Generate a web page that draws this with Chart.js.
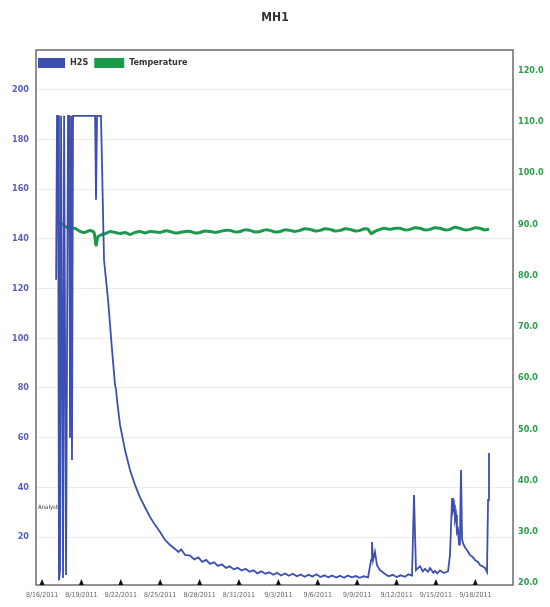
<!DOCTYPE html>
<html>
<head>
<meta charset="utf-8">
<title>MH1</title>
<script src="https://cdn.jsdelivr.net/npm/chart.js@4.4.1/dist/chart.umd.min.js"></script>
<style>
    html, body { margin: 0; padding: 0; background: #fff; }
    #wrap { width: 550px; height: 607px; }
</style>
</head>
<body>
<div id="wrap"><canvas id="graficoMH1"></canvas></div>
<script>
let fuente = "'Liberation Sans Narrow', 'DejaVu Sans Condensed', sans-serif";

// x axis: days from first tick
let tickDays = [0, 3, 6, 9, 12, 15, 18, 21, 24, 27, 30, 33];
let tickLabels = ["8/16/2011", "8/19/2011", "8/22/2011", "8/25/2011", "8/28/2011", "8/31/2011",
                  "9/3/2011", "9/6/2011", "9/9/2011", "9/12/2011", "9/15/2011", "9/18/2011"];
let leftTicks = [20, 40, 60, 80, 100, 120, 140, 160, 180, 200];
let rightTicks = [20, 30, 40, 50, 60, 70, 80, 90, 100, 110, 120];

// H2S (left axis)
let h2sDays = [1.07, 1.14, 1.22, 1.29, 1.37, 1.45, 1.52, 1.60, 1.68, 1.83, 1.98, 2.06, 2.13, 2.21, 2.28, 2.36,
               4.04, 4.11, 4.19, 4.49,
               4.72, 5.03, 5.33, 5.56, 5.64, 5.71, 5.94, 6.32, 6.70, 7.08, 7.46, 7.84, 8.23, 8.61, 8.99,
               9.37, 9.75, 10.13, 10.4, 10.6, 10.9, 11.27, 11.6, 11.9, 12.2, 12.5, 12.8, 13.1, 13.4, 13.7,
               14.0, 14.3, 14.6, 14.9, 15.2, 15.5, 15.8, 16.1, 16.4, 16.7, 17.0, 17.3, 17.6, 17.9, 18.2,
               18.5, 18.8, 19.1, 19.4, 19.7, 20.0, 20.3, 20.6, 20.9, 21.2, 21.5, 21.8, 22.1, 22.4, 22.7,
               23.0, 23.3, 23.6, 23.9, 24.2, 24.5, 24.83, 25.06, 25.13, 25.21,
               25.36, 25.51, 25.74, 26.12, 26.4, 26.7, 27.0, 27.3, 27.65, 27.9, 28.18, 28.33, 28.48,
               28.79, 29.0, 29.17, 29.4, 29.55, 29.8, 29.93, 30.1, 30.31, 30.6, 30.92, 31.07, 31.23, 31.3,
               31.38, 31.45, 31.53, 31.6, 31.68, 31.76, 31.83, 31.91, 31.99, 32.1, 32.22, 32.4, 32.60, 32.8,
               32.98, 33.2, 33.36, 33.55, 33.74, 33.89, 33.97, 34.04];
let h2sValues = [123.5, 189.5, 189.5, 2.5, 6.7, 189.5, 189.5, 3.5, 189.5, 4.7, 189.5, 189.5, 60, 189.5, 51, 189.5,
                 189.5, 155.7, 189.5, 189.5,
                 131.5, 115.4, 95.3, 81.2, 79.2, 75.2, 65.1, 55, 47, 41, 36, 32, 28, 24.8, 22,
                 18.8, 16.8, 15.2, 14.0, 15.0, 12.8, 12.5, 11.0, 11.8, 10.0, 10.8, 9.2, 9.8, 8.4, 9.0,
                 7.6, 8.2, 7.0, 7.6, 6.5, 7.2, 6.0, 6.6, 5.4, 6.2, 5.2, 5.8, 4.8, 5.6, 4.5,
                 5.3, 4.4, 5.2, 4.2, 4.9, 4.0, 4.8, 4.1, 5.0, 3.9, 4.6, 3.8, 4.5, 3.7, 4.4,
                 3.6, 4.5, 3.8, 4.3, 3.6, 4.2, 3.8, 10.7, 18, 10.7,
                 14, 8.7, 6.7, 5.1, 4.2, 4.8, 3.9, 4.6, 4.0, 5.0, 4.5, 36.9, 6.7,
                 8.3, 6.2, 7.2, 6.0, 7.5, 5.6, 6.4, 5.4, 6.6, 5.5, 6.2, 12.7, 35.7, 31,
                 33, 27, 29, 22, 23, 17, 19, 47, 19, 17, 15.8, 14.5, 12.7, 12.0,
                 10.7, 10.0, 8.7, 8.2, 7.5, 5.9, 34.9, 53.8];

// Temperature (right axis)
let tempDays = [1.14, 1.37, 1.75, 2.13, 2.51, 2.89, 3.27, 3.66, 3.96, 4.11, 4.27, 4.57, 4.87, 5.18, 5.56,
                5.94, 6.32, 6.70, 7.08, 7.46, 7.85, 8.23, 8.6, 8.99, 9.37, 9.75, 10.13, 10.51, 10.9, 11.27,
                11.65, 12.03, 12.4, 12.80, 13.2, 13.56, 13.9, 14.32, 14.7, 15.08, 15.45, 15.84, 16.2, 16.60,
                17.0, 17.37, 17.75, 18.13, 18.5, 18.89, 19.25, 19.65, 20.0, 20.41, 20.8, 21.17, 21.55, 21.93,
                22.3, 22.70, 23.1, 23.46, 23.85, 24.22, 24.55, 24.83, 25.06, 25.36, 25.74, 26.1, 26.50,
                26.9, 27.27, 27.65, 28.03, 28.4, 28.79, 29.15, 29.55, 29.9, 30.31, 30.7, 31.07, 31.45,
                31.83, 32.2, 32.60, 33.0, 33.36, 33.7, 34.04];
let tempValues = [89.8, 90.4, 89.6, 89.2, 89.2, 88.6, 88.4, 88.8, 88.4, 85.9, 87.6, 88.0, 88.2, 88.6, 88.4,
                  88.2, 88.4, 88.0, 88.4, 88.6, 88.3, 88.6, 88.5, 88.4, 88.7, 88.6, 88.3, 88.4, 88.6, 88.6,
                  88.3, 88.4, 88.7, 88.6, 88.4, 88.6, 88.8, 88.8, 88.5, 88.6, 88.9, 88.8, 88.5, 88.6,
                  88.9, 88.8, 88.5, 88.6, 88.9, 88.8, 88.6, 88.8, 89.1, 89.0, 88.7, 88.8, 89.1, 89.0,
                  88.7, 88.8, 89.1, 89.0, 88.7, 88.8, 89.1, 89.0, 88.2, 88.6, 89.0, 89.2, 89.0,
                  89.2, 89.2, 88.9, 89.0, 89.3, 89.2, 88.9, 89.0, 89.3, 89.2, 88.9, 89.0, 89.4,
                  89.2, 88.9, 89.0, 89.3, 89.2, 88.9, 89.0];

let azul = "#3d4fb0";
let verde = "#1b9a4c";

function puntos(dias, valores) {
    return dias.map((d, i) => ({ x: d, y: valores[i] }));
}

// frame, tick triangles, inner legend and small note
let extras = {
    id: "extras",
    afterDatasetsDraw(chart) {
        let ctx = chart.ctx;
        let a = chart.chartArea;
        let xs = chart.scales.x;
        ctx.save();

        ctx.strokeStyle = "#6b6b6b";
        ctx.lineWidth = 1.5;
        ctx.strokeRect(a.left, a.top, a.right - a.left, a.bottom - a.top);

        ctx.fillStyle = "#111";
        tickDays.forEach(function (d) {
            let px = xs.getPixelForValue(d);
            ctx.beginPath();
            ctx.moveTo(px - 2.5, a.bottom);
            ctx.lineTo(px, a.bottom - 6);
            ctx.lineTo(px + 2.5, a.bottom);
            ctx.closePath();
            ctx.fill();
        });

        // legend inside the plot
        ctx.font = "bold 9px " + fuente;
        ctx.textBaseline = "middle";
        let x = a.left + 2;
        let y = a.top + 13;
        chart.data.datasets.forEach(function (ds, i) {
            let ancho = i === 0 ? 27 : 30;
            ctx.fillStyle = ds.borderColor;
            ctx.fillRect(x, y - 5, ancho, 10);
            ctx.fillStyle = "#333";
            ctx.fillText(ds.label, x + ancho + 5, y);
            x += ancho + 5 + ctx.measureText(ds.label).width + 6;
        });

        ctx.font = "6px " + fuente;
        ctx.fillStyle = "#333";
        ctx.fillText("Analyst", a.left + 2, chart.scales.y.getPixelForValue(32));
        ctx.restore();
    }
};

new Chart(document.getElementById("graficoMH1"), {
    type: "line",
    data: {
        datasets: [{
            label: "H2S",
            data: puntos(h2sDays, h2sValues),
            borderColor: azul,
            backgroundColor: azul,
            borderWidth: 1.8,
            pointRadius: 0,
            tension: 0,
            yAxisID: "y"
        }, {
            label: "Temperature",
            data: puntos(tempDays, tempValues),
            borderColor: verde,
            backgroundColor: verde,
            borderWidth: 3,
            pointRadius: 0,
            tension: 0.2,
            yAxisID: "y1"
        }]
    },
    options: {
        responsive: true,
        maintainAspectRatio: false,
        animation: false,
        layout: { padding: 0 },
        plugins: {
            legend: { display: false },
            tooltip: { enabled: false },
            title: {
                display: true,
                text: "MH1",
                color: "#333",
                font: { size: 12, weight: "bold", family: fuente, lineHeight: 1.5 },
                padding: { top: 9, bottom: 23 }
            }
        },
        scales: {
            x: {
                type: "linear",
                min: -0.46,
                max: 35.87,
                afterBuildTicks: function (axis) {
                    axis.ticks = tickDays.map(v => ({ value: v }));
                },
                afterFit: function (axis) { axis.height = 22; },
                grid: { display: false, drawTicks: false },
                border: { display: false },
                ticks: {
                    autoSkip: false,
                    maxRotation: 0,
                    padding: 6,
                    color: "#666",
                    font: { size: 7, family: fuente },
                    callback: function (v, i) { return tickLabels[i]; }
                }
            },
            y: {
                position: "left",
                min: 0.7,
                max: 216,
                afterBuildTicks: function (axis) {
                    axis.ticks = leftTicks.map(v => ({ value: v }));
                },
                afterFit: function (axis) { axis.width = 36; },
                grid: { color: "#ececec", lineWidth: 1, drawTicks: false },
                border: { display: false },
                ticks: {
                    padding: 7,
                    color: "#5a5db8",
                    font: { size: 9, weight: "bold", family: fuente }
                }
            },
            y1: {
                position: "right",
                min: 19.6,
                max: 124,
                afterBuildTicks: function (axis) {
                    axis.ticks = rightTicks.map(v => ({ value: v }));
                },
                afterFit: function (axis) { axis.width = 37; },
                grid: { display: false, drawTicks: false },
                border: { display: false },
                ticks: {
                    padding: 5,
                    color: "#2a9d4a",
                    font: { size: 9, weight: "bold", family: fuente },
                    callback: function (v) { return Number(v).toFixed(1); }
                }
            }
        }
    },
    plugins: [extras]
});
</script>
</body>
</html>
